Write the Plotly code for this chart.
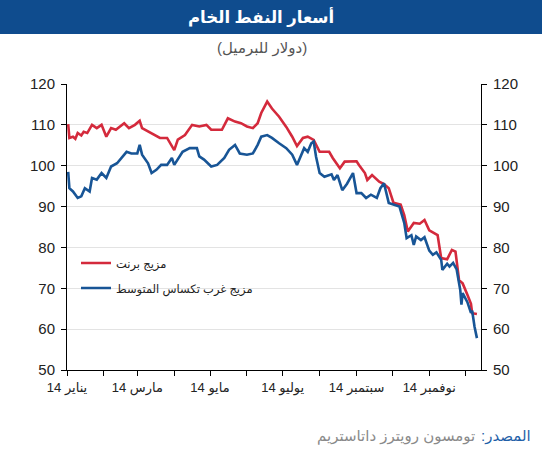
import plotly.graph_objects as go

brent_dates = ["2014-01-02","2014-01-03","2014-01-06","2014-01-08","2014-01-10","2014-01-13","2014-01-15","2014-01-18","2014-01-22","2014-01-26","2014-01-30",
"2014-02-03","2014-02-07","2014-02-11","2014-02-18","2014-02-22","2014-02-27","2014-03-03","2014-03-05","2014-03-11",
"2014-03-20","2014-03-26","2014-04-01","2014-04-04","2014-04-10","2014-04-16","2014-04-22","2014-04-28","2014-05-02",
"2014-05-07","2014-05-11","2014-05-16","2014-05-22","2014-05-27","2014-06-01","2014-06-06","2014-06-10","2014-06-13",
"2014-06-18","2014-06-22","2014-06-28","2014-07-04","2014-07-09","2014-07-13","2014-07-18","2014-07-22","2014-07-27",
"2014-08-01","2014-08-09","2014-08-12","2014-08-18","2014-08-22","2014-08-28","2014-09-01","2014-09-03","2014-09-08",
"2014-09-10","2014-09-14","2014-09-20","2014-09-24","2014-09-28","2014-10-02","2014-10-08","2014-10-11","2014-10-14",
"2014-10-19","2014-10-24","2014-10-28","2014-11-01","2014-11-04","2014-11-08","2014-11-11","2014-11-16","2014-11-20",
"2014-11-23","2014-11-26","2014-11-29","2014-12-03","2014-12-06","2014-12-07","2014-12-11"]
brent_values = [110.2,106.8,107.1,106.6,108.0,107.4,108.3,108.0,110.0,109.2,110.0,
107.1,109.2,108.8,110.4,109.2,110.0,111.0,109.2,108.3,
106.8,106.8,103.8,106.4,107.5,110.0,109.6,110.0,108.8,
108.8,108.8,111.6,110.8,110.4,109.6,109.2,110.4,112.9,
115.7,114.0,112.0,109.5,107.1,104.8,106.8,107.1,106.3,
103.4,103.4,101.9,99.4,101.0,101.1,101.1,100.2,98.2,
96.5,97.7,96.1,95.5,94.5,90.9,90.5,87.9,83.9,
86.0,85.8,86.7,84.2,83.6,83.0,77.4,77.1,79.4,
79.0,72.0,71.2,68.4,66.2,63.9,63.7]

wti_dates = ["2014-01-02","2014-01-03","2014-01-06","2014-01-10","2014-01-13","2014-01-16","2014-01-20","2014-01-22",
"2014-01-26","2014-01-30","2014-02-03","2014-02-07","2014-02-12","2014-02-16","2014-02-20","2014-02-24","2014-03-01",
"2014-03-03","2014-03-05","2014-03-10","2014-03-13","2014-03-17","2014-03-21","2014-03-26","2014-03-30","2014-04-01",
"2014-04-04","2014-04-08","2014-04-14","2014-04-20","2014-04-22","2014-04-26","2014-05-02","2014-05-07","2014-05-13",
"2014-05-17","2014-05-22","2014-05-26","2014-06-01","2014-06-06","2014-06-10","2014-06-13","2014-06-18","2014-06-22",
"2014-06-28","2014-07-04","2014-07-09","2014-07-13","2014-07-19","2014-07-22","2014-07-25","2014-07-27","2014-07-29",
"2014-08-01","2014-08-05","2014-08-11","2014-08-13","2014-08-16","2014-08-20","2014-08-24","2014-08-29","2014-09-01",
"2014-09-05","2014-09-09","2014-09-13","2014-09-18","2014-09-21","2014-09-24","2014-09-28","2014-10-02","2014-10-07",
"2014-10-11","2014-10-13","2014-10-17","2014-10-19","2014-10-21","2014-10-25","2014-10-28","2014-11-01","2014-11-04",
"2014-11-07","2014-11-11","2014-11-12","2014-11-16","2014-11-18","2014-11-21","2014-11-24","2014-11-27","2014-11-28",
"2014-11-29","2014-12-03","2014-12-06","2014-12-07","2014-12-09","2014-12-11"]
wti_values = [98.5,94.5,93.7,92.1,92.5,94.5,93.7,97.0,
96.6,98.2,97.0,99.8,100.6,101.9,103.4,103.0,103.0,
105.1,102.7,100.6,98.2,99.0,100.2,100.2,101.9,100.2,
101.5,103.4,104.3,104.3,102.3,101.5,99.8,100.2,101.9,
103.9,105.1,103.0,102.7,103.0,105.1,107.1,107.5,106.8,
105.5,104.3,102.7,100.2,104.3,103.4,105.5,105.9,102.2,
98.2,97.3,97.9,96.5,97.7,94.0,95.6,98.2,93.3,
93.3,92.1,92.9,92.1,94.5,95.7,90.9,90.5,90.0,
86.0,82.3,83.0,80.6,82.7,81.8,82.5,79.2,78.2,
78.8,77.0,74.5,76.0,75.3,76.2,74.6,69.6,66.0,
68.8,66.6,64.0,64.5,60.6,57.8]

month_ticks = ["2014-01-01","2014-02-01","2014-03-01","2014-04-01","2014-05-01","2014-06-01",
               "2014-07-01","2014-08-01","2014-09-01","2014-10-01","2014-11-01","2014-12-01"]
month_labels = ["14 يناير","","14 مارس","","14 مايو","","14 يوليو","","14 سبتمبر","","14 نوفمبر",""]
y_ticks = [50,60,70,80,90,100,110,120]

brent_name = "مزيج برنت"
wti_name = "مزيج غرب تكساس المتوسط"
title_text = "أسعار النفط الخام"
subtitle_text = "(دولار للبرميل)"
source_label = ":المصدر"
source_text = "تومسون رويترز داتاستريم"

FONT = "Liberation Sans, Arial, DejaVu Sans, sans-serif"
RED = "#d42a3c"
BLUE = "#185596"

fig = go.Figure()
fig.add_trace(go.Scatter(x=brent_dates, y=brent_values, mode="lines", name=brent_name,
                         line=dict(color=RED, width=2.6), legend="legend", showlegend=True))
fig.add_trace(go.Scatter(x=wti_dates, y=wti_values, mode="lines", name=wti_name,
                         line=dict(color=BLUE, width=2.6), legend="legend2", yaxis="y2", showlegend=True))

L, R, T, B = 67, 61, 84, 80
W, H = 542, 450
pw, ph = W - L - R, H - T - B

def px(x):
    return (x - L) / pw

def py(y):
    return (H - B - y) / ph

axis_common = dict(range=[50, 120], tickvals=y_ticks, showline=True, linecolor="black", linewidth=1,
                   ticks="outside", ticklen=5, tickcolor="black", ticklabelstandoff=3,
                   tickfont=dict(family=FONT, size=15, color="#222"), zeroline=False)

fig.update_layout(
    width=W, height=H,
    margin=dict(l=L, r=R, t=T, b=B),
    paper_bgcolor="white", plot_bgcolor="white",
    font=dict(family=FONT),
    showlegend=True,
    xaxis=dict(type="date", range=["2014-01-01", "2014-12-14 10:00"], tickvals=month_ticks,
               ticktext=month_labels, showline=True, linecolor="black", linewidth=1,
               ticks="outside", ticklen=5, tickcolor="black", showgrid=False,
               tickfont=dict(family=FONT, size=13, color="#222")),
    yaxis=dict(**axis_common, showgrid=True, gridcolor="#e3e3e3", gridwidth=1, side="left"),
    yaxis2=dict(**axis_common, overlaying="y", side="right", showgrid=False),
    legend=dict(x=px(76), y=py(263), xanchor="left", yanchor="middle", bgcolor="rgba(0,0,0,0)",
                font=dict(family=FONT, size=11.5, color="#222")),
    legend2=dict(x=px(76), y=py(288), xanchor="left", yanchor="middle", bgcolor="rgba(0,0,0,0)",
                 font=dict(family=FONT, size=11.5, color="#222")),
    shapes=[dict(type="rect", xref="paper", yref="paper", x0=px(0), x1=px(W), y0=py(34), y1=py(0),
                 fillcolor="#0f4c8e", line=dict(width=0), layer="below")],
    annotations=[
        dict(text=f"<b>{title_text}</b>", xref="paper", yref="paper", x=px(261), y=py(17),
             xanchor="center", yanchor="middle", showarrow=False,
             font=dict(family=FONT, size=16.5, color="white")),
        dict(text=subtitle_text, xref="paper", yref="paper", x=px(262), y=py(48),
             xanchor="center", yanchor="middle", showarrow=False,
             font=dict(family=FONT, size=15, color="#555")),
        dict(text=source_label, xref="paper", yref="paper", x=px(533), y=py(436),
             xanchor="right", yanchor="middle", showarrow=False,
             font=dict(family=FONT, size=15, color="#1f5fa8")),
        dict(text=source_text, xref="paper", yref="paper", x=px(477), y=py(436),
             xanchor="right", yanchor="middle", showarrow=False,
             font=dict(family=FONT, size=15, color="#8a8a8a")),
    ],
)

fig.write_html("out.html")
